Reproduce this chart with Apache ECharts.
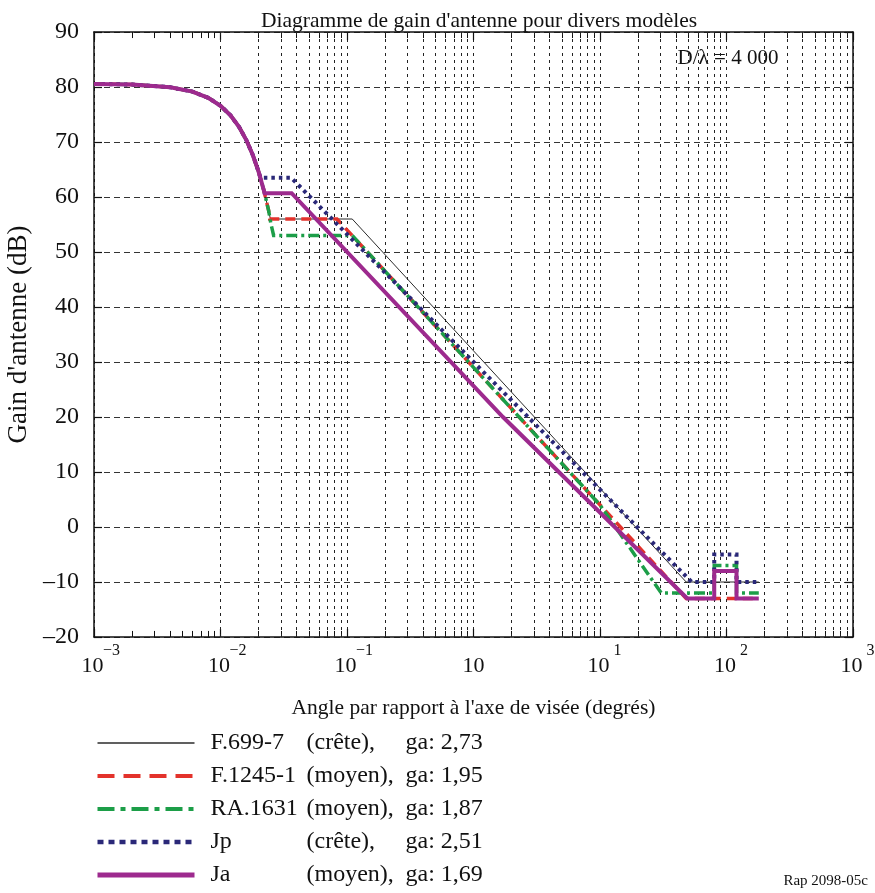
<!DOCTYPE html>
<html>
<head>
<meta charset="utf-8">
<script src="https://cdn.jsdelivr.net/npm/echarts@6/dist/echarts.min.js"></script>
<style>
  html, body { margin: 0; padding: 0; background: #ffffff; }
  #chart { width: 875px; height: 893px; }
</style>
</head>
<body>
<div id="chart"></div>
<script>
// Off-axis angle (degrees) and gain (dBi) of each reference pattern, D/λ = 4 000
const f699Angle = [0.001, 0.002, 0.004, 0.006, 0.008, 0.010, 0.012, 0.014, 0.016, 0.018, 0.020, 0.022, 0.024, 0.0248, 0.11, 48, 180];
const f699Gain  = [80.56, 80.44, 79.96, 79.16, 78.04, 76.6, 74.84, 72.76, 70.36, 67.64, 64.6, 61.24, 57.56, 56, 56, -10, -10];

const f1245Angle = [0.001, 0.002, 0.004, 0.006, 0.008, 0.010, 0.012, 0.014, 0.016, 0.018, 0.020, 0.022, 0.024, 0.0245, 0.0833, 48, 180];
const f1245Gain  = [80.56, 80.44, 79.96, 79.16, 78.04, 76.6, 74.84, 72.76, 70.36, 67.64, 64.6, 61.24, 57.56, 56, 56, -13, -13];

const ra1631Angle = [0.001, 0.002, 0.004, 0.006, 0.008, 0.010, 0.012, 0.014, 0.016, 0.018, 0.020, 0.022, 0.024, 0.025, 0.0263, 0.11, 10, 30.5, 80, 80, 120, 120, 180];
const ra1631Gain  = [80.56, 80.44, 79.96, 79.16, 78.04, 76.6, 74.84, 72.76, 70.36, 67.64, 64.6, 61.24, 57.56, 55.2, 53, 53, 4, -12, -12, -7, -7, -12, -12];

const jpAngle = [0.001, 0.002, 0.004, 0.006, 0.008, 0.010, 0.012, 0.014, 0.016, 0.018, 0.020, 0.0207, 0.0362, 1, 53, 80, 80, 120, 120, 180];
const jpGain  = [80.56, 80.44, 79.96, 79.16, 78.04, 76.6, 74.84, 72.76, 70.36, 67.64, 64.6, 63.5, 63.5, 30, -10, -10, -5, -5, -10, -10];

const jaAngle = [0.001, 0.002, 0.004, 0.006, 0.008, 0.010, 0.012, 0.014, 0.016, 0.018, 0.020, 0.022, 0.0223, 0.0365, 1.71, 49, 80, 80, 120, 120, 180];
const jaGain  = [80.56, 80.44, 79.96, 79.16, 78.04, 76.6, 74.84, 72.76, 70.36, 67.64, 64.6, 61.24, 60.7, 60.7, 20, -13, -13, -8, -8, -13, -13];

// Legend columns
const seriesNames = ['F.699-7', 'F.1245-1', 'RA.1631', 'Jp', 'Ja'];
const seriesKinds = ['(crête),', '(moyen),', '(moyen),', '(crête),', '(moyen),'];
const seriesGa    = ['2,73', '1,95', '1,87', '2,51', '1,69'];

// Axis ticks
const xDecades   = [0.001, 0.01, 0.1, 1, 10, 100, 1000];
const xTickExp   = ['\u22123', '\u22122', '\u22121', '', '1', '2', '3'];
const xMantissas = [2, 3, 4, 5, 6, 7, 8, 9];
const yMin = -20, yMax = 90, yStep = 10;

const SERIF = '"Liberation Serif", "Times New Roman", serif';

const minorX = [];
xDecades.slice(0, -1).forEach(d => xMantissas.forEach(m => minorX.push(+(d * m).toPrecision(3))));

const pairs = (a, g) => a.map((v, i) => [v, g[i]]);

const styles = [
  { color: '#2b2b2b', width: 1,   type: 'solid',       legendType: 'solid',       legendWidth: 1.5 },
  { color: '#e3322b', width: 3.5, type: [10, 6],       legendType: [17, 9],       legendWidth: 4 },
  { color: '#1c9e48', width: 3.5, type: [11, 4, 3, 4], legendType: [17, 6, 5, 6], legendWidth: 4 },
  { color: '#2a2878', width: 4,   type: [3.5, 4],      legendType: [6, 5],        legendWidth: 4.5 },
  { color: '#9d2a8e', width: 4,   type: 'solid',       legendType: 'solid',       legendWidth: 5 }
];
const datasets = [
  pairs(f699Angle, f699Gain),
  pairs(f1245Angle, f1245Gain),
  pairs(ra1631Angle, ra1631Gain),
  pairs(jpAngle, jpGain),
  pairs(jaAngle, jaGain)
];

const series = seriesNames.map((name, i) => ({
  name,
  type: 'line',
  data: datasets[i],
  symbol: 'none',
  z: 3 + i,
  lineStyle: { color: styles[i].color, width: styles[i].width, type: styles[i].type, cap: 'butt', join: 'miter' },
  itemStyle: { color: styles[i].color }
}));

// Dashed vertical grid at 2..9 of every decade, plus short inner minor ticks
series.unshift({
  name: 'grid',
  type: 'line',
  data: [],
  z: 1,
  markLine: {
    silent: true,
    symbol: 'none',
    animation: false,
    label: { show: false },
    lineStyle: { color: '#222', width: 1, type: [3, 4] },
    data: minorX.map(v => ({ xAxis: v }))
  }
});
series.unshift({
  name: 'ticks',
  type: 'line',
  data: [],
  z: 2,
  markLine: {
    silent: true,
    symbol: 'none',
    animation: false,
    label: { show: false },
    lineStyle: { color: '#111', width: 1, type: 'solid' },
    data: minorX.map(v => [{ coord: [v, yMin] }, { coord: [v, yMin + 1.1] }])
      .concat(minorX.map(v => [{ coord: [v, yMax] }, { coord: [v, yMax - 1.1] }]))
  }
});

const legendFont = { fontFamily: SERIF, fontSize: 24, color: '#111', lineHeight: 26 };

const option = {
  animation: false,
  backgroundColor: '#ffffff',
  title: {
    text: 'Diagramme de gain d\'antenne pour divers modèles',
    left: 474, top: 5, textAlign: 'center',
    textStyle: { fontFamily: SERIF, fontSize: 21.5, fontWeight: 'normal', color: '#111' }
  },
  grid: { left: 94, right: 22, top: 32, bottom: 256, containLabel: false, outerBoundsMode: 'none' },
  legend: {
    orient: 'vertical',
    left: 95, top: 730,
    padding: 0,
    itemWidth: 97, itemHeight: 14, itemGap: 7,
    selectedMode: false,
    data: seriesNames.map((n, i) => ({
      name: n,
      itemStyle: { opacity: 0 },
      lineStyle: { color: styles[i].color, width: styles[i].legendWidth, type: styles[i].legendType, cap: 'butt' }
    })),
    formatter: name => {
      const i = seriesNames.indexOf(name);
      return '{sp| }{n|' + name + '}{k|' + seriesKinds[i] + '}{g|ga: ' + seriesGa[i] + '}';
    },
    textStyle: Object.assign({
      rich: {
        sp: Object.assign({ width: 11 }, legendFont),
        n: Object.assign({ width: 96 }, legendFont),
        k: Object.assign({ width: 99 }, legendFont),
        g: Object.assign({}, legendFont)
      }
    }, legendFont)
  },
  graphic: [
    {
      type: 'group', left: 672, top: 36, z: 50,
      children: [
        { type: 'rect', shape: { x: 0, y: 0, width: 112, height: 44 }, style: { fill: '#ffffff' } },
        { type: 'text', x: 56, y: 22, style: { text: 'D/\u03bb = 4 000', font: '21px ' + SERIF, fill: '#111', align: 'center', verticalAlign: 'middle' } }
      ]
    },
    {
      type: 'text', right: 7, bottom: 4, z: 50,
      style: { text: 'Rap 2098-05c', font: '15px ' + SERIF, fill: '#111' }
    }
  ],
  xAxis: [
    {
      type: 'log', logBase: 10, min: 0.001, max: 1000,
      name: 'Angle par rapport à l\'axe de visée (degrés)',
      nameLocation: 'middle', nameGap: 60,
      nameTextStyle: { fontFamily: SERIF, fontSize: 21.5, color: '#111' },
      axisLine: { show: true, onZero: false, lineStyle: { color: '#111', width: 1.5 } },
      axisTick: { show: true, inside: true, length: 8, lineStyle: { color: '#111', width: 1.2 } },
      minorTick: { show: false },
      splitLine: { show: true, lineStyle: { color: '#222', width: 1, type: [3, 4] } },
      axisLabel: {
        margin: 6,
        formatter: v => {
          const e = Math.round(Math.log10(v));
          const i = xDecades.findIndex(d => Math.round(Math.log10(d)) === e);
          const sup = xTickExp[i];
          // base "10" sits near the tick; exponent hangs to the right
          return sup ? '{p|\u00a0}{b|10}{s|' + sup + '}' : '{b|10}';
        },
        rich: {
          p: { fontFamily: SERIF, fontSize: 16, width: 13, lineHeight: 18, verticalAlign: 'top' },
          b: { fontFamily: SERIF, fontSize: 22, color: '#111', lineHeight: 34, verticalAlign: 'bottom' },
          s: { fontFamily: SERIF, fontSize: 16, color: '#111', width: 16, align: 'left', lineHeight: 18, verticalAlign: 'top' }
        }
      }
    },
    {
      type: 'log', logBase: 10, min: 0.001, max: 1000, position: 'top',
      axisLine: { show: true, onZero: false, lineStyle: { color: '#111', width: 1.5 } },
      axisTick: { show: true, inside: true, length: 8, lineStyle: { color: '#111', width: 1.2 } },
      axisLabel: { show: false },
      splitLine: { show: false }
    }
  ],
  yAxis: [
    {
      type: 'value', min: yMin, max: yMax, interval: yStep,
      name: 'Gain d\'antenne (dB)',
      nameLocation: 'middle', nameGap: 57,
      nameTextStyle: { fontFamily: SERIF, fontSize: 27, color: '#111' },
      axisLine: { show: true, onZero: false, lineStyle: { color: '#111', width: 1.5 } },
      axisTick: { show: true, inside: true, length: 8, lineStyle: { color: '#111', width: 1.2 } },
      splitLine: { show: true, lineStyle: { color: '#333', width: 1, type: [6, 4] } },
      axisLabel: {
        margin: 15,
        fontFamily: SERIF, fontSize: 24, color: '#111',
        formatter: v => (v < 0 ? '\u2013' + Math.abs(v) : String(v))
      }
    },
    {
      type: 'value', min: yMin, max: yMax, interval: yStep, position: 'right',
      axisLine: { show: true, onZero: false, lineStyle: { color: '#111', width: 1.5 } },
      axisTick: { show: true, inside: true, length: 8, lineStyle: { color: '#111', width: 1.2 } },
      axisLabel: { show: false },
      splitLine: { show: false }
    }
  ],
  series
};

const chart = echarts.init(document.getElementById('chart'), null, { renderer: 'canvas' });
chart.setOption(option);
</script>
</body>
</html>
